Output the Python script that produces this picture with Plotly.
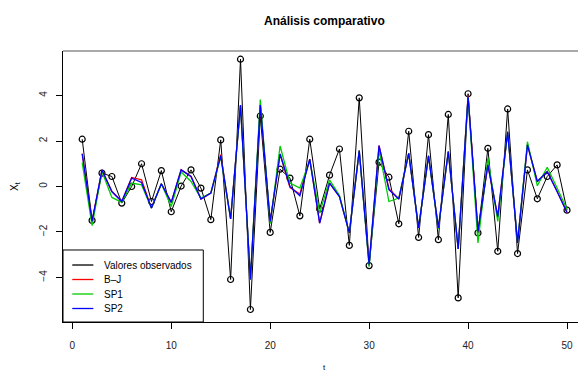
import plotly.graph_objects as go

# Series
t = list(range(1, 51))
observados = [2.08, -1.49, 0.59, 0.44, -0.73, 0.00, 1.00, -0.66, 0.70, -1.11,
              0.02, 0.73, -0.07, -1.46, 2.05, -4.09, 5.60, -5.41, 3.10, -2.02,
              0.76, 0.37, -1.29, 2.08, -0.99, 0.50, 1.65, -2.59, 3.90, -3.48,
              1.07, 0.41, -1.64, 2.43, -2.24, 2.28, -2.34, 3.17, -4.90, 4.08,
              -2.04, 1.68, -2.85, 3.41, -2.95, 0.73, -0.54, 0.44, 0.95, -1.04]
bj = [1.45, -1.53, 0.73, -0.22, -0.66, 0.40, 0.29, -0.95, 0.12, -0.70,
      0.73, 0.44, -0.55, -0.29, 1.40, -1.43, 3.58, -4.09, 3.58, -1.54,
      1.43, -0.05, -0.33, 1.20, -1.61, 0.15, -0.44, -2.04, 1.58, -3.43,
      1.80, -0.10, -0.55, 1.46, -1.82, 1.35, -1.82, 1.54, -2.75, 4.00,
      -1.97, 0.95, -1.32, 2.41, -2.48, 1.83, 0.22, 0.66, -0.22, -1.14]
sp1 = [1.05, -1.72, 0.66, -0.48, -0.70, 0.15, 0.07, -0.95, 0.12, -0.88,
       0.64, 0.22, -0.51, -0.29, 1.30, -1.43, 3.55, -4.09, 3.83, -1.64,
       1.78, 0.15, -0.07, 1.15, -1.17, 0.29, -0.40, -2.04, 1.58, -3.53,
       1.61, -0.66, -0.51, 1.46, -1.82, 1.35, -1.86, 1.54, -2.75, 3.95,
       -2.48, 1.25, -1.54, 2.41, -2.48, 1.97, 0.03, 0.85, -0.07, -1.00]
sp2 = [1.43, -1.53, 0.73, -0.22, -0.66, 0.37, 0.18, -0.95, 0.12, -0.70,
       0.73, 0.44, -0.55, -0.29, 1.35, -1.43, 3.58, -4.09, 3.58, -1.54,
       1.43, 0.00, -0.41, 1.20, -1.61, 0.15, -0.44, -2.04, 1.58, -3.43,
       1.80, -0.14, -0.55, 1.46, -1.82, 1.35, -1.82, 1.54, -2.75, 3.95,
       -1.97, 0.95, -1.32, 2.41, -2.48, 1.83, 0.22, 0.66, -0.22, -1.14]

x_ticks = [0, 10, 20, 30, 40, 50]
y_ticks = [-4, -2, 0, 2, 4]

legend_names = ["Valores observados", "B\u2013J", "SP1", "SP2"]
colors = ["black", "#FF0000", "#00CD00", "#0000FF"]

FONT = "Liberation Sans, Arial, Helvetica, sans-serif"

fig = go.Figure()
fig.add_trace(go.Scatter(x=t, y=observados, mode="lines+markers",
                         line=dict(color=colors[0], width=1),
                         marker=dict(symbol="circle-open", size=6,
                                     color="black", line=dict(width=1.2)),
                         showlegend=False))
for ys, c in zip([bj, sp1, sp2], colors[1:]):
    fig.add_trace(go.Scatter(x=t, y=ys, mode="lines",
                             line=dict(color=c, width=1.3),
                             showlegend=False))

# Frame: top edge of the plotting region (left and bottom come from the axes)
shapes = [dict(type="line", xref="paper", yref="paper", x0=0, x1=1,
               y0=1, y1=1, line=dict(color="#555555", width=1))]

# Legend box drawn in the lower-left corner of the plot area
shapes.append(dict(type="rect", xref="paper", yref="paper", x0=0.0, x1=0.2724,
                   y0=0.0, y1=0.2657, line=dict(color="black", width=1),
                   fillcolor="white", layer="above"))
annotations = []
row_y = [0.2103, 0.1568, 0.1033, 0.0498]
for name, c, ry in zip(legend_names, colors, row_y):
    shapes.append(dict(type="line", xref="paper", yref="paper",
                       x0=0.018, x1=0.0589, y0=ry, y1=ry,
                       line=dict(color=c, width=1.3), layer="above"))
    annotations.append(dict(text=name, xref="paper", yref="paper",
                            x=0.0751, y=ry, xanchor="left", yanchor="middle",
                            showarrow=False,
                            font=dict(size=10, color="black", family=FONT)))

# Titles
annotations.append(dict(text="<b>Análisis comparativo</b>", xref="paper",
                        yref="paper", x=0.5087, y=1.1107, xanchor="center",
                        yanchor="middle", showarrow=False,
                        font=dict(size=12, color="black", family=FONT)))
annotations.append(dict(text="t", xref="paper", yref="paper", x=0.5087,
                        y=-0.1697, xanchor="center", yanchor="middle",
                        showarrow=False,
                        font=dict(size=8, color="black", family=FONT)))
annotations.append(dict(text="X<sub>t</sub>", xref="paper", yref="paper",
                        x=-0.0932, y=0.498, xanchor="center",
                        yanchor="middle", textangle=-90, showarrow=False,
                        font=dict(size=10, color="black", family=FONT)))

fig.update_layout(
    width=578, height=378,
    margin=dict(l=63, r=0, t=51, b=56),
    paper_bgcolor="white", plot_bgcolor="white",
    font=dict(family=FONT, size=10, color="black"),
    shapes=shapes, annotations=annotations,
    xaxis=dict(range=[-0.94, 51.11], tickvals=x_ticks, ticks="outside",
               ticklen=6, tickcolor="black", tickwidth=1,
               ticklabelstandoff=8,
               showline=True, mirror=False, linecolor="black", linewidth=1,
               showgrid=False, zeroline=False,
               tickfont=dict(size=10, color="#222222")),
    yaxis=dict(range=[-5.96, 5.96], tickvals=y_ticks, ticks="outside",
               ticklen=6, tickcolor="black", tickwidth=1, tickangle=-90,
               ticklabelstandoff=5,
               showline=True, mirror=False, linecolor="black", linewidth=1,
               showgrid=False, zeroline=False,
               tickfont=dict(size=10, color="#222222")),
)

fig.write_html("out.html")
